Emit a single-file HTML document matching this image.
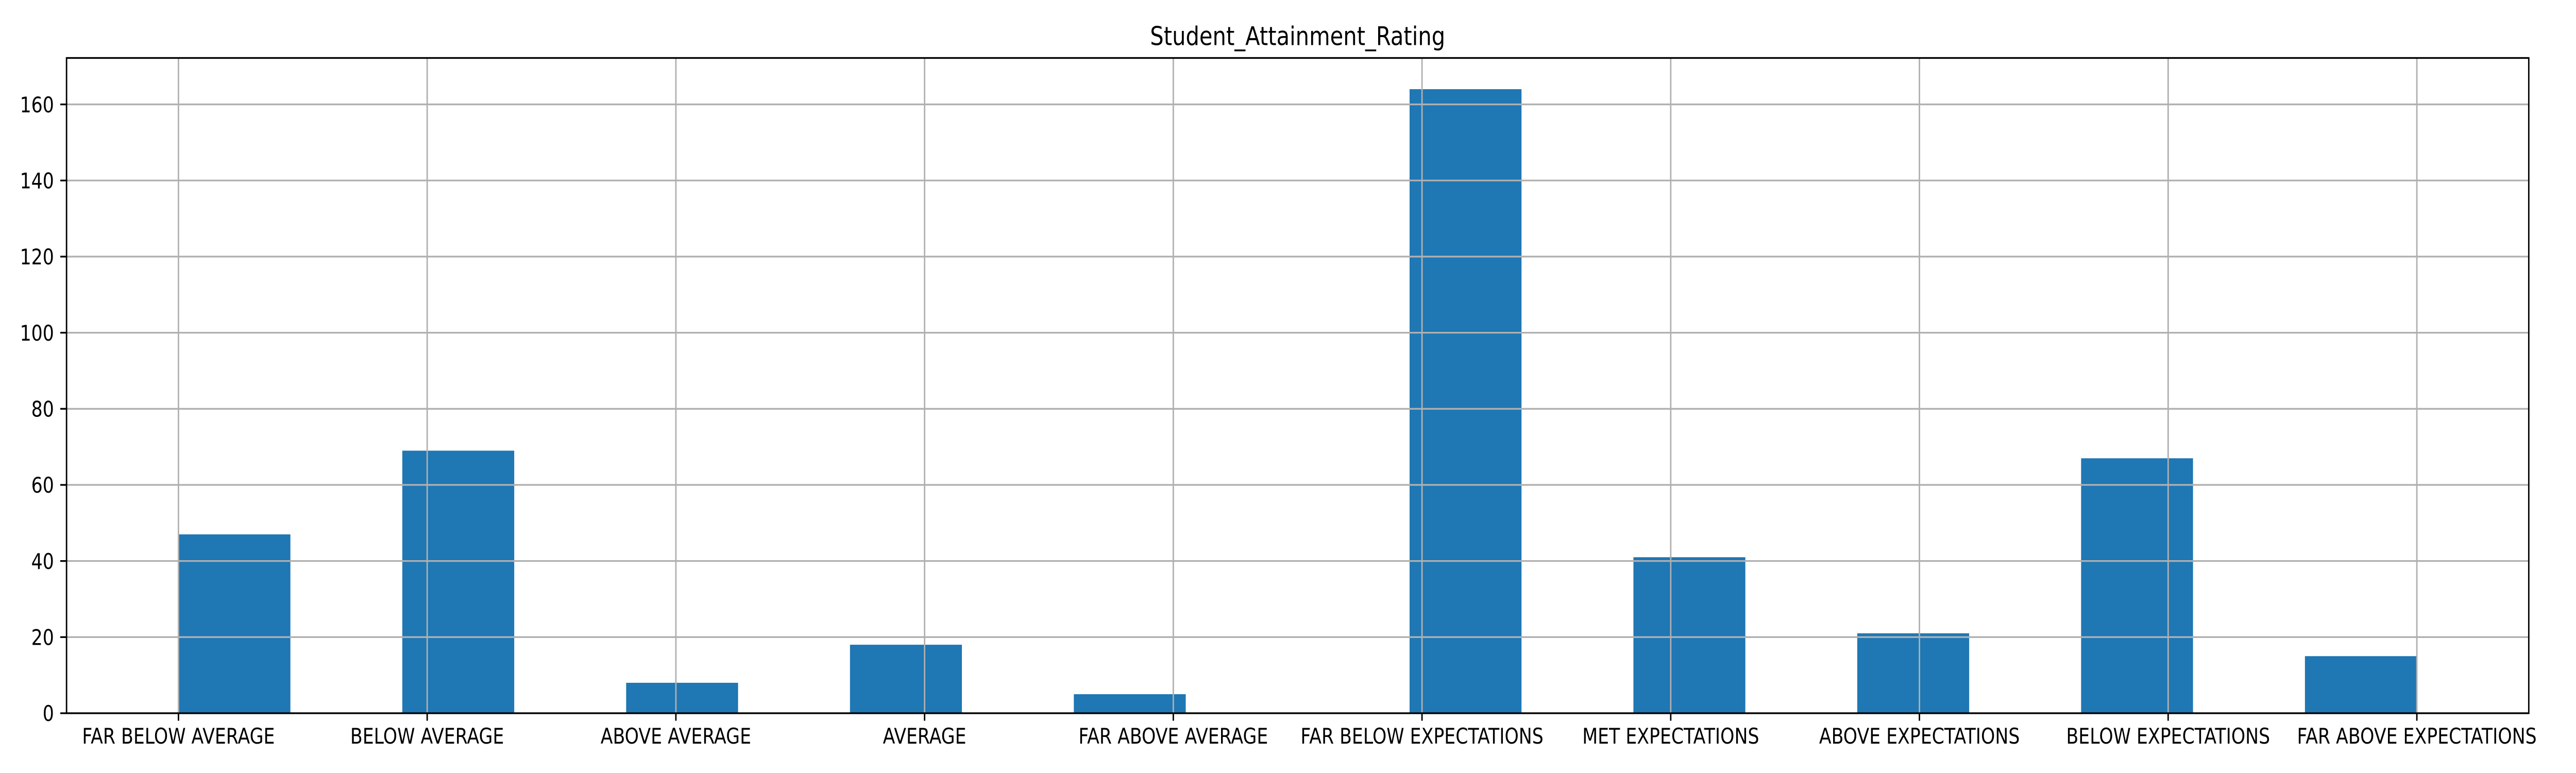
<!DOCTYPE html>
<html lang="en">
<head>
<meta charset="utf-8">
<title>Student_Attainment_Rating</title>
<style>
html,body{margin:0;padding:0;background:#fff;width:100%;height:1500px}
svg{display:block;width:100%;height:1500px}
text{font-family:"DejaVu Sans","Liberation Sans",sans-serif;fill:#000}
</style>
</head>
<body>
<svg id="chart" xmlns="http://www.w3.org/2000/svg" viewBox="0 0 6000 1500" preserveAspectRatio="none">
<rect x="0" y="0" width="6000" height="1500" fill="#ffffff"/>
<g id="bars"></g>
<g id="grid"></g>
<g id="ticks"></g>
<g id="labels"></g>
<g id="spines"></g>
<text x="3022.5" y="87.5" font-size="50" text-anchor="middle">Student_Attainment_Rating</text>
</svg>
<script>
const categories = ["FAR BELOW AVERAGE","BELOW AVERAGE","ABOVE AVERAGE","AVERAGE","FAR ABOVE AVERAGE","FAR BELOW EXPECTATIONS","MET EXPECTATIONS","ABOVE EXPECTATIONS","BELOW EXPECTATIONS","FAR ABOVE EXPECTATIONS"];
const counts = [47,69,8,18,5,164,41,21,67,15];
const binStarts = [0,0.9,1.8,2.7,3.6,4.95,5.85,6.75,7.65,8.55];
const binWidths = [0.45,0.45,0.45,0.45,0.45,0.45,0.45,0.45,0.45,0.45];
const yTicks = [0,20,40,60,80,100,120,140,160];

const NS = "http://www.w3.org/2000/svg";
const plot = {left:155, right:5890, top:112.5, bottom:1384};
const xMin = -0.45, xMax = 9.45, yMin = 0, yMax = Math.max(...counts) * 1.05;
function xScale(v){ return plot.left + (v - xMin) / (xMax - xMin) * (plot.right - plot.left); }
function yScale(v){ return plot.bottom - (v - yMin) / (yMax - yMin) * (plot.bottom - plot.top); }
function make(tag, parentId, attrs){
  const el = document.createElementNS(NS, tag);
  for (const k in attrs) el.setAttribute(k, attrs[k]);
  document.getElementById(parentId).appendChild(el);
  return el;
}
const LW = 3.33, TICK = 14.6, GRID = "#b0b0b0", FS = 41.67;

counts.forEach((c, i) => {
  const x0 = xScale(binStarts[i]), x1 = xScale(binStarts[i] + binWidths[i]);
  const el = make("rect", "bars", {x:x0, y:yScale(c), width:x1 - x0, height:yScale(0) - yScale(c), fill:"#1f77b4"});
  
  
});

categories.forEach((name, i) => {
  const x = xScale(i);
  const g = make("line", "grid", {x1:x, x2:x, y1:plot.top, y2:plot.bottom, stroke:GRID, "stroke-width":LW});
  
  
  const t = make("line", "ticks", {x1:x, x2:x, y1:plot.bottom, y2:plot.bottom + TICK, stroke:"#000", "stroke-width":LW});
  
  
  const l = make("text", "labels", {x:x, y:1443, "font-size":FS, "text-anchor":"middle"});
  l.textContent = name;
  
  
});

yTicks.forEach((v) => {
  const y = yScale(v);
  const g = make("line", "grid", {x1:plot.left, x2:plot.right, y1:y, y2:y, stroke:GRID, "stroke-width":LW});
  
  
  const t = make("line", "ticks", {x1:plot.left - TICK, x2:plot.left, y1:y, y2:y, stroke:"#000", "stroke-width":LW});
  
  
  const l = make("text", "labels", {x:plot.left - TICK - 14.6, y:y + 15.2, "font-size":FS, "text-anchor":"end"});
  l.textContent = String(v);
  
  
});

const frame = make("rect", "spines", {x:plot.left, y:plot.top, width:plot.right - plot.left, height:plot.bottom - plot.top, fill:"none", stroke:"#000", "stroke-width":LW, "stroke-linecap":"square"});


</script>
</body>
</html>
